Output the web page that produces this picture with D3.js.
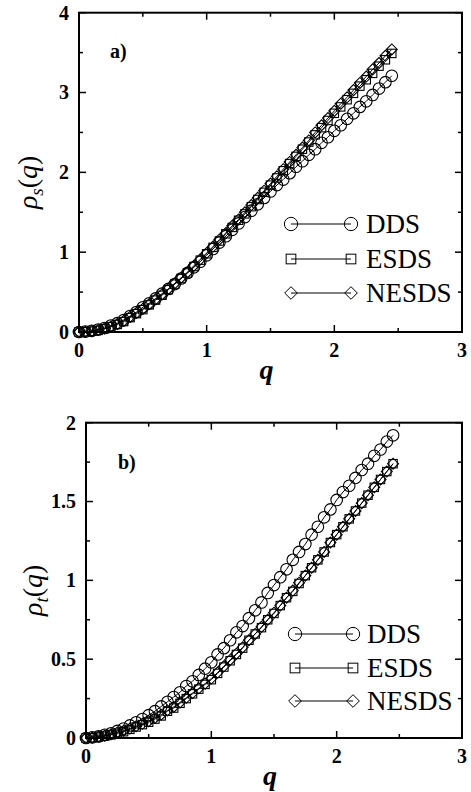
<!DOCTYPE html>
<html>
<head>
<meta charset="utf-8">
<script src="https://cdn.jsdelivr.net/npm/d3@7"></script>
<style>
  body { margin: 0; background: #fff; }
</style>
</head>
<body>
<div id="chart"></div>
<script>
// q grid, step 0.05
var q = [0, 0.05, 0.1, 0.15, 0.2, 0.25, 0.3, 0.35, 0.4, 0.45,
  0.5, 0.55, 0.6, 0.65, 0.7, 0.75, 0.8, 0.85, 0.9, 0.95,
  1.0, 1.05, 1.1, 1.15, 1.2, 1.25, 1.3, 1.35, 1.4, 1.45,
  1.5, 1.55, 1.6, 1.65, 1.7, 1.75, 1.8, 1.85, 1.9, 1.95,
  2.0, 2.05, 2.1, 2.15, 2.2, 2.25, 2.3, 2.35, 2.4, 2.45];

// panel a) rho_s(q)
var rhoS_DDS = [0, 0.005, 0.015, 0.03, 0.05, 0.08, 0.11, 0.15, 0.2, 0.25,
  0.31, 0.36, 0.42, 0.48, 0.54, 0.6, 0.67, 0.74, 0.81, 0.88,
  0.96, 1.04, 1.12, 1.2, 1.28, 1.36, 1.44, 1.52, 1.6, 1.68,
  1.76, 1.84, 1.91, 1.99, 2.07, 2.14, 2.22, 2.29, 2.37, 2.44,
  2.52, 2.59, 2.67, 2.74, 2.82, 2.89, 2.97, 3.05, 3.13, 3.21];
var rhoS_ESDS = [0, 0.003, 0.01, 0.02, 0.04, 0.065, 0.095, 0.13, 0.18, 0.23,
  0.28, 0.34, 0.4, 0.46, 0.53, 0.6, 0.67, 0.74, 0.82, 0.9,
  0.98, 1.06, 1.14, 1.23, 1.31, 1.4, 1.48, 1.57, 1.66, 1.75,
  1.84, 1.93, 2.02, 2.11, 2.2, 2.29, 2.38, 2.47, 2.56, 2.65,
  2.74, 2.82, 2.91, 2.99, 3.08, 3.16, 3.24, 3.33, 3.41, 3.49];
var rhoS_NESDS = [0, 0.004, 0.012, 0.025, 0.045, 0.07, 0.1, 0.14, 0.19, 0.24,
  0.29, 0.35, 0.41, 0.47, 0.54, 0.61, 0.68, 0.75, 0.83, 0.91,
  0.99, 1.07, 1.16, 1.24, 1.33, 1.41, 1.5, 1.59, 1.68, 1.77,
  1.86, 1.95, 2.04, 2.13, 2.22, 2.31, 2.4, 2.5, 2.59, 2.68,
  2.77, 2.86, 2.94, 3.03, 3.12, 3.2, 3.29, 3.37, 3.46, 3.54];

// panel b) rho_t(q)
var rhoT_DDS = [0, 0.004, 0.01, 0.02, 0.03, 0.045, 0.06, 0.08, 0.1, 0.12,
  0.145, 0.17, 0.2, 0.23, 0.26, 0.29, 0.33, 0.36, 0.4, 0.44,
  0.48, 0.53, 0.57, 0.62, 0.67, 0.71, 0.76, 0.81, 0.86, 0.92,
  0.97, 1.02, 1.07, 1.13, 1.18, 1.23, 1.29, 1.34, 1.4, 1.45,
  1.51, 1.56, 1.6, 1.65, 1.7, 1.74, 1.79, 1.83, 1.88, 1.92];
var rhoT_ESDS = [0, 0.002, 0.006, 0.012, 0.02, 0.03, 0.04, 0.055, 0.07, 0.085,
  0.1, 0.12, 0.14, 0.17, 0.19, 0.22, 0.25, 0.28, 0.31, 0.34,
  0.37, 0.41, 0.45, 0.49, 0.53, 0.57, 0.62, 0.66, 0.7, 0.75,
  0.79, 0.84, 0.89, 0.93, 0.98, 1.03, 1.08, 1.13, 1.18, 1.24,
  1.29, 1.34, 1.39, 1.44, 1.49, 1.54, 1.59, 1.64, 1.69, 1.74];
var rhoT_NESDS = [0, 0.003, 0.008, 0.015, 0.024, 0.035, 0.046, 0.06, 0.075, 0.09,
  0.107, 0.127, 0.148, 0.175, 0.197, 0.226, 0.255, 0.285, 0.315, 0.345,
  0.377, 0.415, 0.455, 0.495, 0.535, 0.575, 0.62, 0.66, 0.705, 0.75,
  0.795, 0.84, 0.89, 0.935, 0.985, 1.03, 1.08, 1.13, 1.18, 1.24,
  1.29, 1.34, 1.39, 1.44, 1.49, 1.54, 1.59, 1.64, 1.69, 1.74];

var seriesNames = ['DDS', 'ESDS', 'NESDS'];
var markerTypes = ['circle', 'square', 'diamond'];

var xTicks = [0, 1, 2, 3];
var xMinor = [0.5, 1.5, 2.5];
var yTicksA = [0, 1, 2, 3, 4];
var yMinorA = [0.5, 1.5, 2.5, 3.5];
var yTicksB = [0, 0.5, 1, 1.5, 2];
var yMinorB = [0.25, 0.75, 1.25, 1.75];

var FONT = '"Liberation Serif", "Times New Roman", Times, "DejaVu Serif", serif';

var W = 471, H = 792;
var svg = d3.select('#chart').append('svg')
  .attr('width', W)
  .attr('height', H)
  .attr('font-family', FONT);

svg.append('rect').attr('width', W).attr('height', H).attr('fill', '#fff');

var marker = function(g, type, cx, cy, big) {
  var s = big ? 1.15 : 1;
  if (type === 'circle') {
    g.append('circle').attr('cx', cx).attr('cy', cy).attr('r', 5.8 * s);
  } else if (type === 'square') {
    var h = 4.2 * s;
    g.append('rect').attr('x', cx - h).attr('y', cy - h)
      .attr('width', 2 * h).attr('height', 2 * h);
  } else {
    var d = 5.5 * s;
    g.append('path').attr('d', 'M' + (cx - d) + ',' + cy + 'L' + cx + ',' + (cy - d) +
      'L' + (cx + d) + ',' + cy + 'L' + cx + ',' + (cy + d) + 'Z');
  }
};

var drawPanel = function(p) {
  var x = d3.scaleLinear().domain([0, 3]).range([p.left, p.right]);
  var y = d3.scaleLinear().domain([0, p.ymax]).range([p.bottom, p.top]);
  var g = svg.append('g');

  // frame
  g.append('rect')
    .attr('x', p.left).attr('y', p.top)
    .attr('width', p.right - p.left).attr('height', p.bottom - p.top)
    .attr('fill', 'none').attr('stroke', '#000').attr('stroke-width', 2);

  // ticks on all four sides, pointing inward
  var tickLen = 7, minorLen = 4;
  var ticks = g.append('g').attr('stroke', '#000').attr('stroke-width', 1.5);
  var xt = xTicks.map(function(v) { return {v: v, len: tickLen}; })
    .concat(xMinor.map(function(v) { return {v: v, len: minorLen}; }));
  xt.forEach(function(t) {
    ticks.append('line').attr('x1', x(t.v)).attr('x2', x(t.v))
      .attr('y1', p.bottom).attr('y2', p.bottom - t.len);
    ticks.append('line').attr('x1', x(t.v)).attr('x2', x(t.v))
      .attr('y1', p.top).attr('y2', p.top + t.len);
  });
  var yt = p.yTicks.map(function(v) { return {v: v, len: tickLen}; })
    .concat(p.yMinor.map(function(v) { return {v: v, len: minorLen}; }));
  yt.forEach(function(t) {
    ticks.append('line').attr('y1', y(t.v)).attr('y2', y(t.v))
      .attr('x1', p.left).attr('x2', p.left + t.len);
    ticks.append('line').attr('y1', y(t.v)).attr('y2', y(t.v))
      .attr('x1', p.right).attr('x2', p.right - t.len);
  });

  // tick labels
  g.selectAll(null).data(xTicks).enter().append('text')
    .attr('x', function(d) { return x(d); })
    .attr('y', p.bottom + 25)
    .attr('text-anchor', 'middle')
    .attr('font-size', 20).attr('font-weight', 'bold')
    .text(function(d) { return d; });
  g.selectAll(null).data(p.yTicks).enter().append('text')
    .attr('x', p.left - 10)
    .attr('y', function(d) { return y(d); })
    .attr('dy', '0.34em')
    .attr('text-anchor', 'end')
    .attr('font-size', 20).attr('font-weight', 'bold')
    .text(function(d) { return d; });

  // axis titles
  g.append('text')
    .attr('x', (p.left + p.right) / 2 - 4).attr('y', p.bottom + 47)
    .attr('text-anchor', 'middle')
    .attr('font-size', 28).attr('font-weight', 'bold').attr('font-style', 'italic')
    .text('q');
  var yl = g.append('text')
    .attr('transform', 'translate(' + p.ylabX + ',' + ((p.top + p.bottom) / 2 + 10) + ') rotate(-90)')
    .attr('text-anchor', 'middle')
    .attr('font-size', 28).attr('font-style', 'italic');
  yl.append('tspan').text('ρ');
  yl.append('tspan').attr('font-size', 19).attr('dy', 6).text(p.sub);
  yl.append('tspan').attr('dy', -6).attr('font-style', 'normal').text('(');
  yl.append('tspan').text('q');
  yl.append('tspan').attr('font-style', 'normal').text(')');

  // panel tag
  g.append('text')
    .attr('x', p.tagX).attr('y', p.tagY)
    .attr('font-size', 20).attr('font-weight', 'bold')
    .text(p.tag);

  // series
  var line = d3.line()
    .x(function(d) { return x(d[0]); })
    .y(function(d) { return y(d[1]); });

  p.series.forEach(function(vals, i) {
    var pts = q.map(function(v, j) { return [v, vals[j]]; });
    g.append('path')
      .attr('d', line(pts))
      .attr('fill', 'none').attr('stroke', '#000').attr('stroke-width', 1);
    var mg = g.append('g').attr('fill', 'none').attr('stroke', '#000').attr('stroke-width', 1.1);
    pts.forEach(function(d) {
      marker(mg, markerTypes[i], x(d[0]), y(d[1]), false);
    });
  });

  // legend
  seriesNames.forEach(function(name, i) {
    var ly = p.legY[i];
    var lg = g.append('g');
    lg.append('line').attr('x1', p.legX0).attr('x2', p.legX1)
      .attr('y1', ly).attr('y2', ly)
      .attr('stroke', '#000').attr('stroke-width', 1);
    var mg = lg.append('g').attr('fill', 'none').attr('stroke', '#000').attr('stroke-width', 1);
    marker(mg, markerTypes[i], p.legX0, ly, true);
    marker(mg, markerTypes[i], p.legX1, ly, true);
    lg.append('text')
      .attr('x', p.legText).attr('y', ly).attr('dy', '0.35em')
      .attr('font-size', 27)
      .text(name);
  });
};

drawPanel({
  left: 79, right: 462, top: 12.7, bottom: 332,
  ymax: 4, yTicks: yTicksA, yMinor: yMinorA,
  sub: 's', ylabX: 37, tag: 'a)', tagX: 110, tagY: 58,
  series: [rhoS_DDS, rhoS_ESDS, rhoS_NESDS],
  legX0: 291, legX1: 351, legText: 366, legY: [224, 259, 293]
});

drawPanel({
  left: 86, right: 462, top: 422.7, bottom: 738,
  ymax: 2, yTicks: yTicksB, yMinor: yMinorB,
  sub: 't', ylabX: 42, tag: 'b)', tagX: 118, tagY: 469,
  series: [rhoT_DDS, rhoT_ESDS, rhoT_NESDS],
  legX0: 295, legX1: 353, legText: 367, legY: [634, 668, 701]
});
</script>
</body>
</html>
